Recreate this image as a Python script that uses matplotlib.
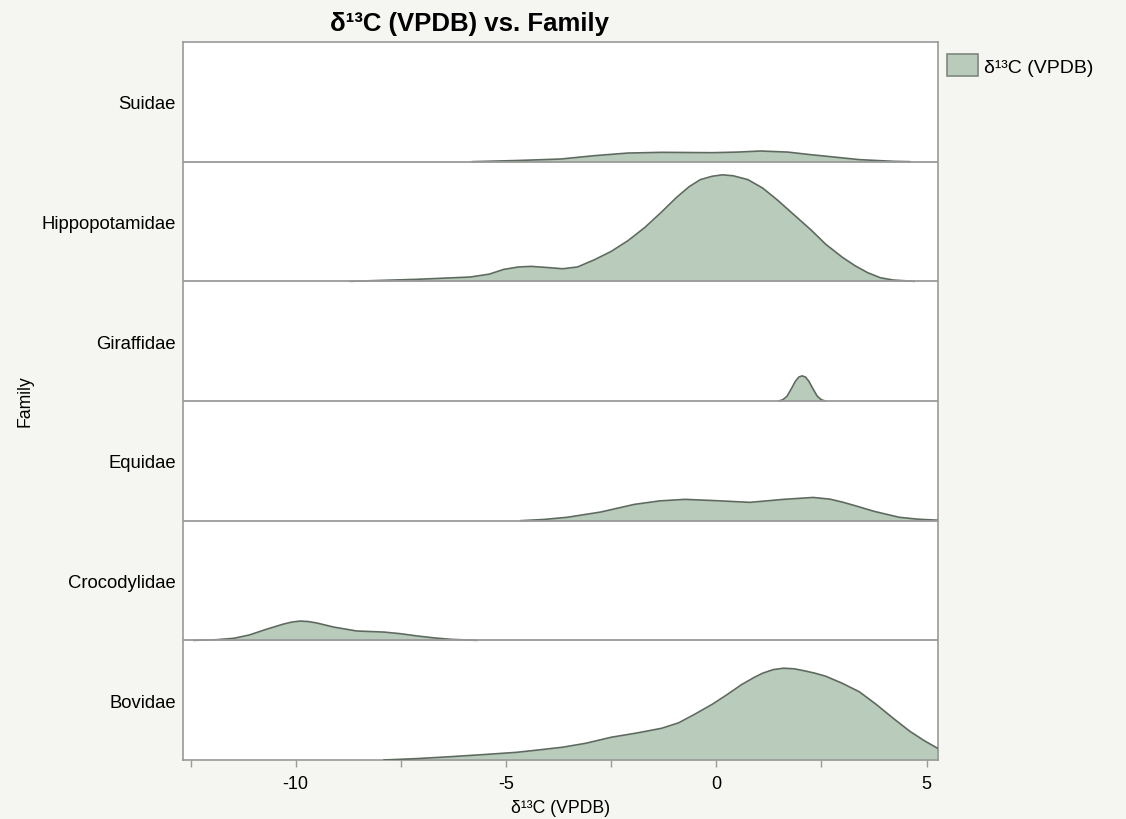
"""δ13C ridgeline by family"""

import matplotlib
matplotlib.use("Agg")
import matplotlib.pyplot as plt
from matplotlib.patches import Patch

FAMILIES = ["Bovidae", "Crocodylidae", "Equidae", "Giraffidae", "Hippopotamidae", "Suidae"]

# density curves, heights as fraction of one row
bovidae_x = [-7.9, -7.1, -6.3, -5.5, -4.75, -4.2, -3.65, -3.1, -2.5, -1.9, -1.3, -0.9, -0.5,
             -0.1, 0.25, 0.6, 0.9, 1.1, 1.35, 1.6, 1.85, 2.1, 2.35, 2.6, 3.0, 3.4, 3.8, 4.2,
             4.6, 4.95, 5.3]
bovidae_y = [0, 0.012, 0.028, 0.046, 0.064, 0.085, 0.107, 0.14, 0.19, 0.225, 0.265, 0.31, 0.385,
             0.465, 0.545, 0.63, 0.69, 0.725, 0.755, 0.767, 0.762, 0.745, 0.725, 0.70, 0.64,
             0.57, 0.465, 0.35, 0.24, 0.16, 0.09]

croc_x = [-12.42, -11.9, -11.47, -11.1, -10.7, -10.3, -10.1, -9.9, -9.7, -9.5, -9.1, -8.55,
          -7.9, -7.5, -7.1, -6.7, -6.3, -5.7]
croc_y = [0, 0.005, 0.017, 0.045, 0.092, 0.135, 0.152, 0.161, 0.157, 0.145, 0.111, 0.078,
          0.069, 0.055, 0.036, 0.02, 0.008, 0]

equidae_x = [-4.65, -4.1, -3.55, -2.75, -1.95, -1.35, -0.75, 0.0, 0.8, 1.6, 2.3, 2.7, 3.0, 3.35,
             3.75, 4.35, 4.8, 5.15, 5.3]
equidae_y = [0, 0.01, 0.028, 0.072, 0.136, 0.165, 0.178, 0.167, 0.153, 0.178, 0.194, 0.18, 0.155,
             0.12, 0.078, 0.028, 0.012, 0.006, 0.003]

giraffe_x = [1.48, 1.58, 1.68, 1.78, 1.88, 1.96, 2.04, 2.12, 2.2, 2.3, 2.4, 2.5, 2.59]
giraffe_y = [0, 0.01, 0.04, 0.10, 0.165, 0.20, 0.21, 0.20, 0.165, 0.10, 0.04, 0.01, 0]

hippo_x = [-8.7, -7.1, -5.85, -5.4, -5.05, -4.7, -4.4, -4.0, -3.65, -3.3, -2.9, -2.5, -2.1, -1.7,
           -1.3, -0.95, -0.65, -0.38, -0.1, 0.15, 0.4, 0.75, 1.1, 1.45, 1.85, 2.25, 2.6, 3.0,
           3.3, 3.6, 3.9, 4.2, 4.7]
hippo_y = [0, 0.017, 0.036, 0.06, 0.10, 0.12, 0.125, 0.115, 0.105, 0.12, 0.18, 0.25, 0.34, 0.45,
           0.58, 0.70, 0.79, 0.85, 0.878, 0.89, 0.882, 0.85, 0.78, 0.68, 0.555, 0.43, 0.31, 0.20,
           0.13, 0.072, 0.03, 0.011, 0]

suidae_x = [-5.8, -4.7, -3.7, -2.9, -2.1, -1.3, -0.1, 0.5, 1.05, 1.7, 2.2, 2.65, 3.4, 4.2, 4.6]
suidae_y = [0, 0.010, 0.022, 0.05, 0.072, 0.078, 0.075, 0.08, 0.089, 0.08, 0.06, 0.044, 0.017,
            0.003, 0]

CURVES = [(bovidae_x, bovidae_y), (croc_x, croc_y), (equidae_x, equidae_y),
          (giraffe_x, giraffe_y), (hippo_x, hippo_y), (suidae_x, suidae_y)]

MAJOR = [-10, -5, 0, 5]
MINOR = [-12.5, -7.5, -2.5, 2.5]

FILL = "#b9cbbb"
EDGE = "#5e6a5f"
GRID = "#9a9a9a"
BG = "#f5f5f1"

plt.rcParams['font.family'] = ['Liberation Sans', 'DejaVu Sans']

fig = plt.figure(figsize=(11.26, 8.2), dpi=100, facecolor=BG)
ax = fig.add_axes([183 / 1126, 1 - 761 / 820, (938 - 183) / 1126, (761 - 43) / 820])
ax.set_facecolor("white")

for i, (xs, ys) in enumerate(CURVES):
    top = [i + v for v in ys]
    ax.fill_between(xs, i, top, color=FILL, lw=0, zorder=2)
    ax.plot(xs, top, color=EDGE, lw=1.2, zorder=3, solid_joinstyle='round')

for i in range(1, len(FAMILIES)):
    ax.axhline(i, color=GRID, lw=1.3, zorder=4)

ax.set_xlim(-12.68, 5.27)
ax.set_ylim(0, len(FAMILIES))

ax.set_xticks(MAJOR)
ax.set_xticklabels([str(v) for v in MAJOR])
ax.set_xticks(MINOR, minor=True)
ax.tick_params(axis='x', which='both', direction='out', length=5, width=1, color=GRID,
               labelsize=13, pad=6)
ax.set_yticks([i + 0.5 for i in range(len(FAMILIES))])
ax.set_yticklabels(FAMILIES)
ax.tick_params(axis='y', length=0, labelsize=13.3, pad=5)

for s in ax.spines.values():
    s.set_color(GRID)
    s.set_linewidth(1.2)

ax.set_xlabel("δ¹³C (VPDB)", fontsize=12.7, labelpad=5)
fig.text(25 / 1126, 1 - 401 / 820, "Family", rotation=90, ha='center', va='center', fontsize=12.7)
fig.text(470 / 1126, 1 - 24 / 820, "δ¹³C (VPDB) vs. Family", ha='center', va='center',
         fontsize=18.5, fontweight='bold')

fig.legend(handles=[Patch(facecolor=FILL, edgecolor="#7d877e", lw=1.2, label="δ¹³C (VPDB)")],
           loc='upper left', bbox_to_anchor=(947 / 1126, 1 - 55 / 820), frameon=False,
           fontsize=14, handlelength=1.6, handleheight=1.4, handletextpad=0.3,
           borderpad=0, borderaxespad=0)

fig.savefig("out.png", dpi=100, facecolor=BG)
